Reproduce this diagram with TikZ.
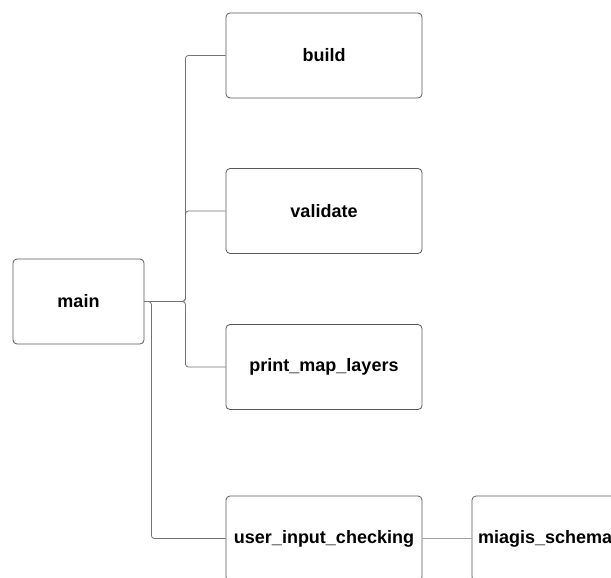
\documentclass[tikz,border=0pt]{standalone}
\usepackage{fontspec}
\setmainfont{Liberation Sans}
\begin{document}
\begin{tikzpicture}[x=1pt,y=-1pt,
  fnbox/.style={draw=black!65, line width=0.8pt, rounded corners=4pt, fill=white,
    minimum width=196pt, minimum height=85pt, inner sep=0pt,
    font=\fontsize{18}{20}\selectfont\bfseries},
  link/.style={draw=black!55, line width=0.8pt, rounded corners=3pt}]
\useasboundingbox (0,0) rectangle (611,578);
\clip (0,0) rectangle (611,578);
\fill[white] (0,0) rectangle (611,578);

\node[fnbox, minimum width=131pt] (main) at (78.5,301.5) {main};
\node[fnbox] (build) at (324,55.5) {build};
\node[fnbox] (validate) at (324,211) {validate};
\node[fnbox] (print) at (324,367) {print\_map\_layers};
\node[fnbox] (uic) at (324,538.5) {user\_input\_checking};
\node[fnbox, text width=184pt, align=left, inner xsep=6pt] (schema) at (570,538.5) {miagis\_schema};

\draw[link] (main.east) -- ++(41,0) |- (build.west);
\draw[link] (main.east) -- ++(41,0) |- (validate.west);
\draw[link] (main.east) -- ++(41,0) |- (print.west);
\draw[link] (main.east) -- ++(7,0) |- (uic.west);
\draw[link, draw=black!35] (uic.east) -- (schema.west);
\end{tikzpicture}
\end{document}
